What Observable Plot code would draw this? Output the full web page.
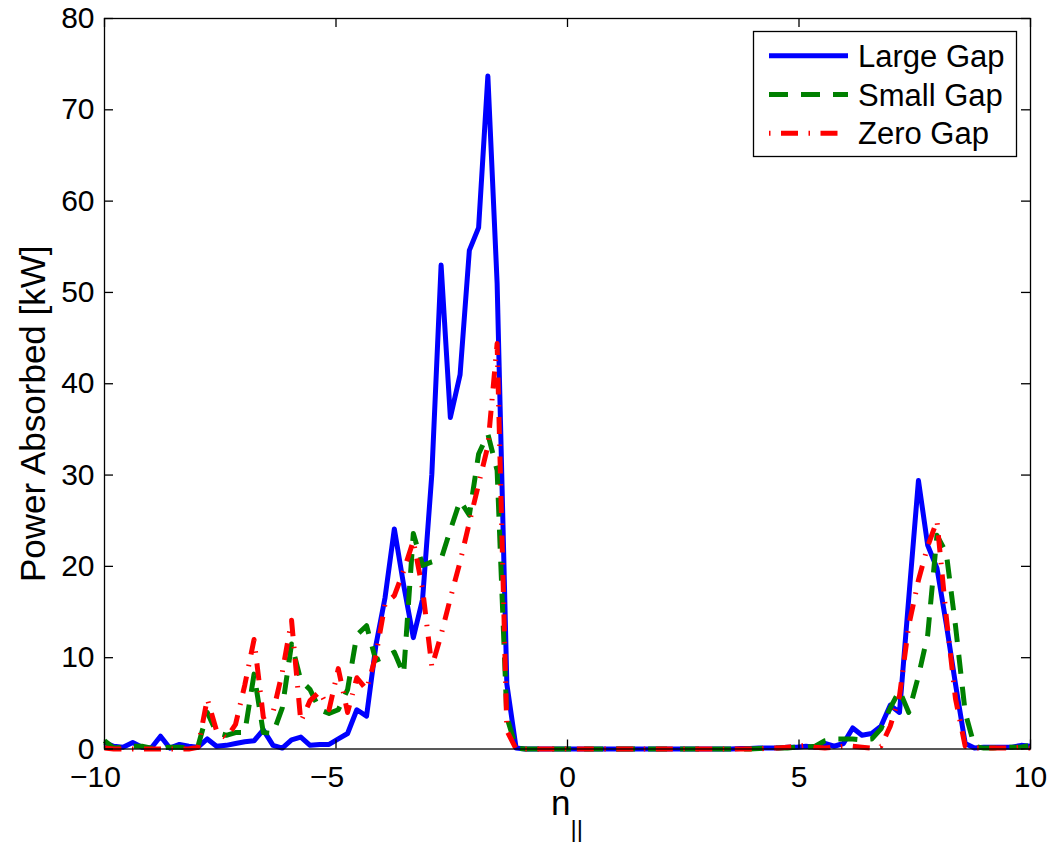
<!DOCTYPE html>
<html><head><meta charset="utf-8">
<script src="https://cdn.jsdelivr.net/npm/d3@7"></script>
<script src="https://cdn.jsdelivr.net/npm/@observablehq/plot@0.6"></script>
<style>body{margin:0;background:#fff;} #chart{width:1052px;height:844px;}</style>
</head><body><div id="chart"></div>
<script>
// n_parallel sample points (100 points from -10 to 10)
const nPar = [
-10.00,-9.80,-9.60,-9.39,-9.19,-8.99,-8.79,-8.59,-8.38,-8.18,
-7.98,-7.78,-7.58,-7.37,-7.17,-6.97,-6.77,-6.57,-6.36,-6.16,
-5.96,-5.76,-5.56,-5.35,-5.15,-4.95,-4.75,-4.55,-4.34,-4.14,
-3.94,-3.74,-3.54,-3.33,-3.13,-2.93,-2.73,-2.53,-2.32,-2.12,
-1.92,-1.72,-1.52,-1.31,-1.11,-0.91,-0.71,-0.51,-0.30,-0.10,
0.10,0.30,0.51,0.71,0.91,1.11,1.31,1.52,1.72,1.92,
2.12,2.32,2.53,2.73,2.93,3.13,3.33,3.54,3.74,3.94,
4.14,4.34,4.55,4.75,4.95,5.15,5.35,5.56,5.76,5.96,
6.16,6.36,6.57,6.77,6.97,7.17,7.37,7.58,7.78,7.98,
8.18,8.38,8.59,8.79,8.99,9.19,9.39,9.60,9.80,10.00];

const largeGap = [
0.7,0.3,0.2,0.7,0.2,0.1,1.4,0.1,0.5,0.3,
0.2,1.1,0.3,0.4,0.6,0.8,0.9,2.1,0.4,0.1,
1.0,1.3,0.4,0.5,0.5,1.1,1.7,4.3,3.6,11.3,
16.6,24.1,18.0,12.2,16.4,30.1,53.0,36.3,41.0,54.6,
57.1,73.7,51.0,7.1,0.1,0,0,0,0,0,
0,0,0,0,0,0,0,0,0,0,
0,0,0,0,0,0,0,0,0.05,0.05,
0.1,0.1,0.1,0.2,0.2,0.3,0.2,0.6,0.3,0.6,
2.3,1.5,1.7,2.5,4.8,4.0,16.5,29.4,22.3,19.8,
13.7,7.1,0.6,0.1,0.2,0.2,0.2,0.2,0.4,0.3];

const smallGap = [
0.9,0.1,0.2,0.3,0.3,0.1,0.1,0.2,0.2,0.1,
0.3,4.0,1.8,1.5,1.8,1.8,8.2,1.8,1.7,4.5,
11.5,7.5,6.5,4.3,3.9,4.3,6.5,12.5,13.5,9.7,
10.1,10.6,8.2,23.6,20.1,20.5,20.8,24.0,27.2,25.6,
32.3,34.5,30.5,3.5,0.1,0,0,0,0,0,
0,0,0,0,0,0,0,0,0,0,
0,0,0,0,0,0,0,0,0,0,
0.05,0.1,0.1,0.1,0.2,0.2,0.3,0.9,1.1,1.1,
1.1,1.0,1.1,2.2,4.5,6.4,4.0,8.0,12.5,23.4,
21.5,13.5,4.0,0.3,0.1,0.1,0.2,0.2,0.2,0.4];

const zeroGap = [
0.1,0,0,0,0,0,0,0,0,0,
0.2,5.5,2.0,1.2,2.7,7.0,12.0,3.5,4.0,8.4,
14.1,3.0,5.3,6.3,4.3,8.8,4.0,7.8,6.5,10.2,
15.9,16.8,19.5,22.8,17.5,9.0,12.5,16.5,20.5,24.8,
29.0,33.2,44.4,2.0,0,0,0,0,0,0,
0,0,0,0,0,0,0,0,0,0,
0,0,0,0,0,0,0,0,0,0,
0,0.1,0.1,0.2,0.3,0.4,0.2,0.1,0.2,0.3,
0.3,0.2,0.1,0.3,2.5,5.8,13.5,18.5,22.2,25.0,
14.5,5.5,0.3,0.1,0.1,0.1,0.1,0.1,0.2,0.1];

const xTicks = [-10, -5, 0, 5, 10];
const yTicks = [0, 10, 20, 30, 40, 50, 60, 70, 80];
const seriesNames = ["Large Gap", "Small Gap", "Zero Gap"];
const seriesValues = [largeGap, smallGap, zeroGap];
const xLabel = "n";
const xLabelSub = "||";
const yLabel = "Power Absorbed [kW]";

const seriesColors = ["#0000ff", "#008000", "#ff0000"];
const seriesDash = [null, "19,13", "17,10.5,1.5,10.5"];
const FONT = "'Liberation Sans', Arial, Helvetica, sans-serif";

const W = 1052, H = 844, mL = 104, mR = 22, mT = 18, mB = 95.5;
const pw = W - mL - mR, ph = H - mT - mB;
const tickLen = 9;
const fmt = d3.format("d");
const rows = ys => nPar.map((x, i) => ({x, y: ys[i]}));

const lineMarks = seriesValues.map((vals, i) =>
  Plot.line(rows(vals), {
    x: "x", y: "y", stroke: seriesColors[i], strokeWidth: 5,
    strokeDasharray: seriesDash[i] || undefined,
    strokeLinecap: "butt", strokeLinejoin: "round"
  }));

const tickStyle = {stroke: "black", strokeWidth: 1.3};

const plot = Plot.plot({
  width: W, height: H,
  marginLeft: mL, marginRight: mR, marginTop: mT, marginBottom: mB,
  style: {fontFamily: FONT, fontSize: "30px", color: "black", background: "white"},
  x: {domain: [-10, 10]},
  y: {domain: [0, 80]},
  marks: [
    ...lineMarks,
    Plot.frame({stroke: "black", strokeWidth: 1.3}),
    Plot.tickY(yTicks, {y: d => d, insetRight: pw - tickLen, ...tickStyle}),
    Plot.tickY(yTicks, {y: d => d, insetLeft: pw - tickLen, ...tickStyle}),
    Plot.tickX(xTicks, {x: d => d, insetTop: ph - tickLen, ...tickStyle}),
    Plot.tickX(xTicks, {x: d => d, insetBottom: ph - tickLen, ...tickStyle}),
    Plot.axisY(yTicks, {tickSize: 0, tickPadding: 10, tickFormat: fmt, label: null, fill: "black"}),
    Plot.axisX(xTicks.filter(d => d >= 0), {tickSize: 0, tickPadding: 17, tickFormat: fmt, label: null, fill: "black"}),
    Plot.axisX(xTicks.filter(d => d < 0), {tickSize: 0, tickPadding: 17, tickFormat: fmt, label: null, fill: "black", dx: -9}),
    Plot.text([yLabel], {text: d => d, frameAnchor: "left", textAnchor: "middle", lineAnchor: "middle",
      rotate: -90, dx: -71, dy: 30, fontSize: 35, fill: "black"})
  ]
});

document.getElementById("chart").appendChild(plot);

const svg = d3.select(plot);
// x label with subscript
const xl = svg.append("text")
  .attr("x", 551).attr("y", 815).attr("text-anchor", "start")
  .attr("font-family", FONT).attr("font-size", 35).attr("fill", "black");
xl.append("tspan").text(xLabel);
xl.append("tspan").attr("font-size", 24).attr("dy", 22).text(xLabelSub);

// legend
const lg = svg.append("g").attr("font-family", FONT).attr("text-anchor", "start");
lg.append("rect")
  .attr("x", 753.5).attr("y", 31.5).attr("width", 263).attr("height", 125)
  .attr("fill", "white").attr("stroke", "black").attr("stroke-width", 1.3);
seriesNames.forEach((name, i) => {
  const yy = 55.7 + i * 38.8;
  const ln = lg.append("line")
    .attr("x1", 769).attr("x2", 848).attr("y1", yy).attr("y2", yy)
    .attr("stroke", seriesColors[i]).attr("stroke-width", 5)
    .attr("stroke-linecap", "butt");
  if (seriesDash[i]) ln.attr("stroke-dasharray", seriesDash[i]);
  if (i === 2) ln.attr("stroke-dashoffset", 27.5);
  lg.append("text").attr("x", 858).attr("y", yy + 11).attr("text-anchor", "start")
    .attr("font-size", 31).attr("fill", "black").text(name);
});
</script>
</body></html>
